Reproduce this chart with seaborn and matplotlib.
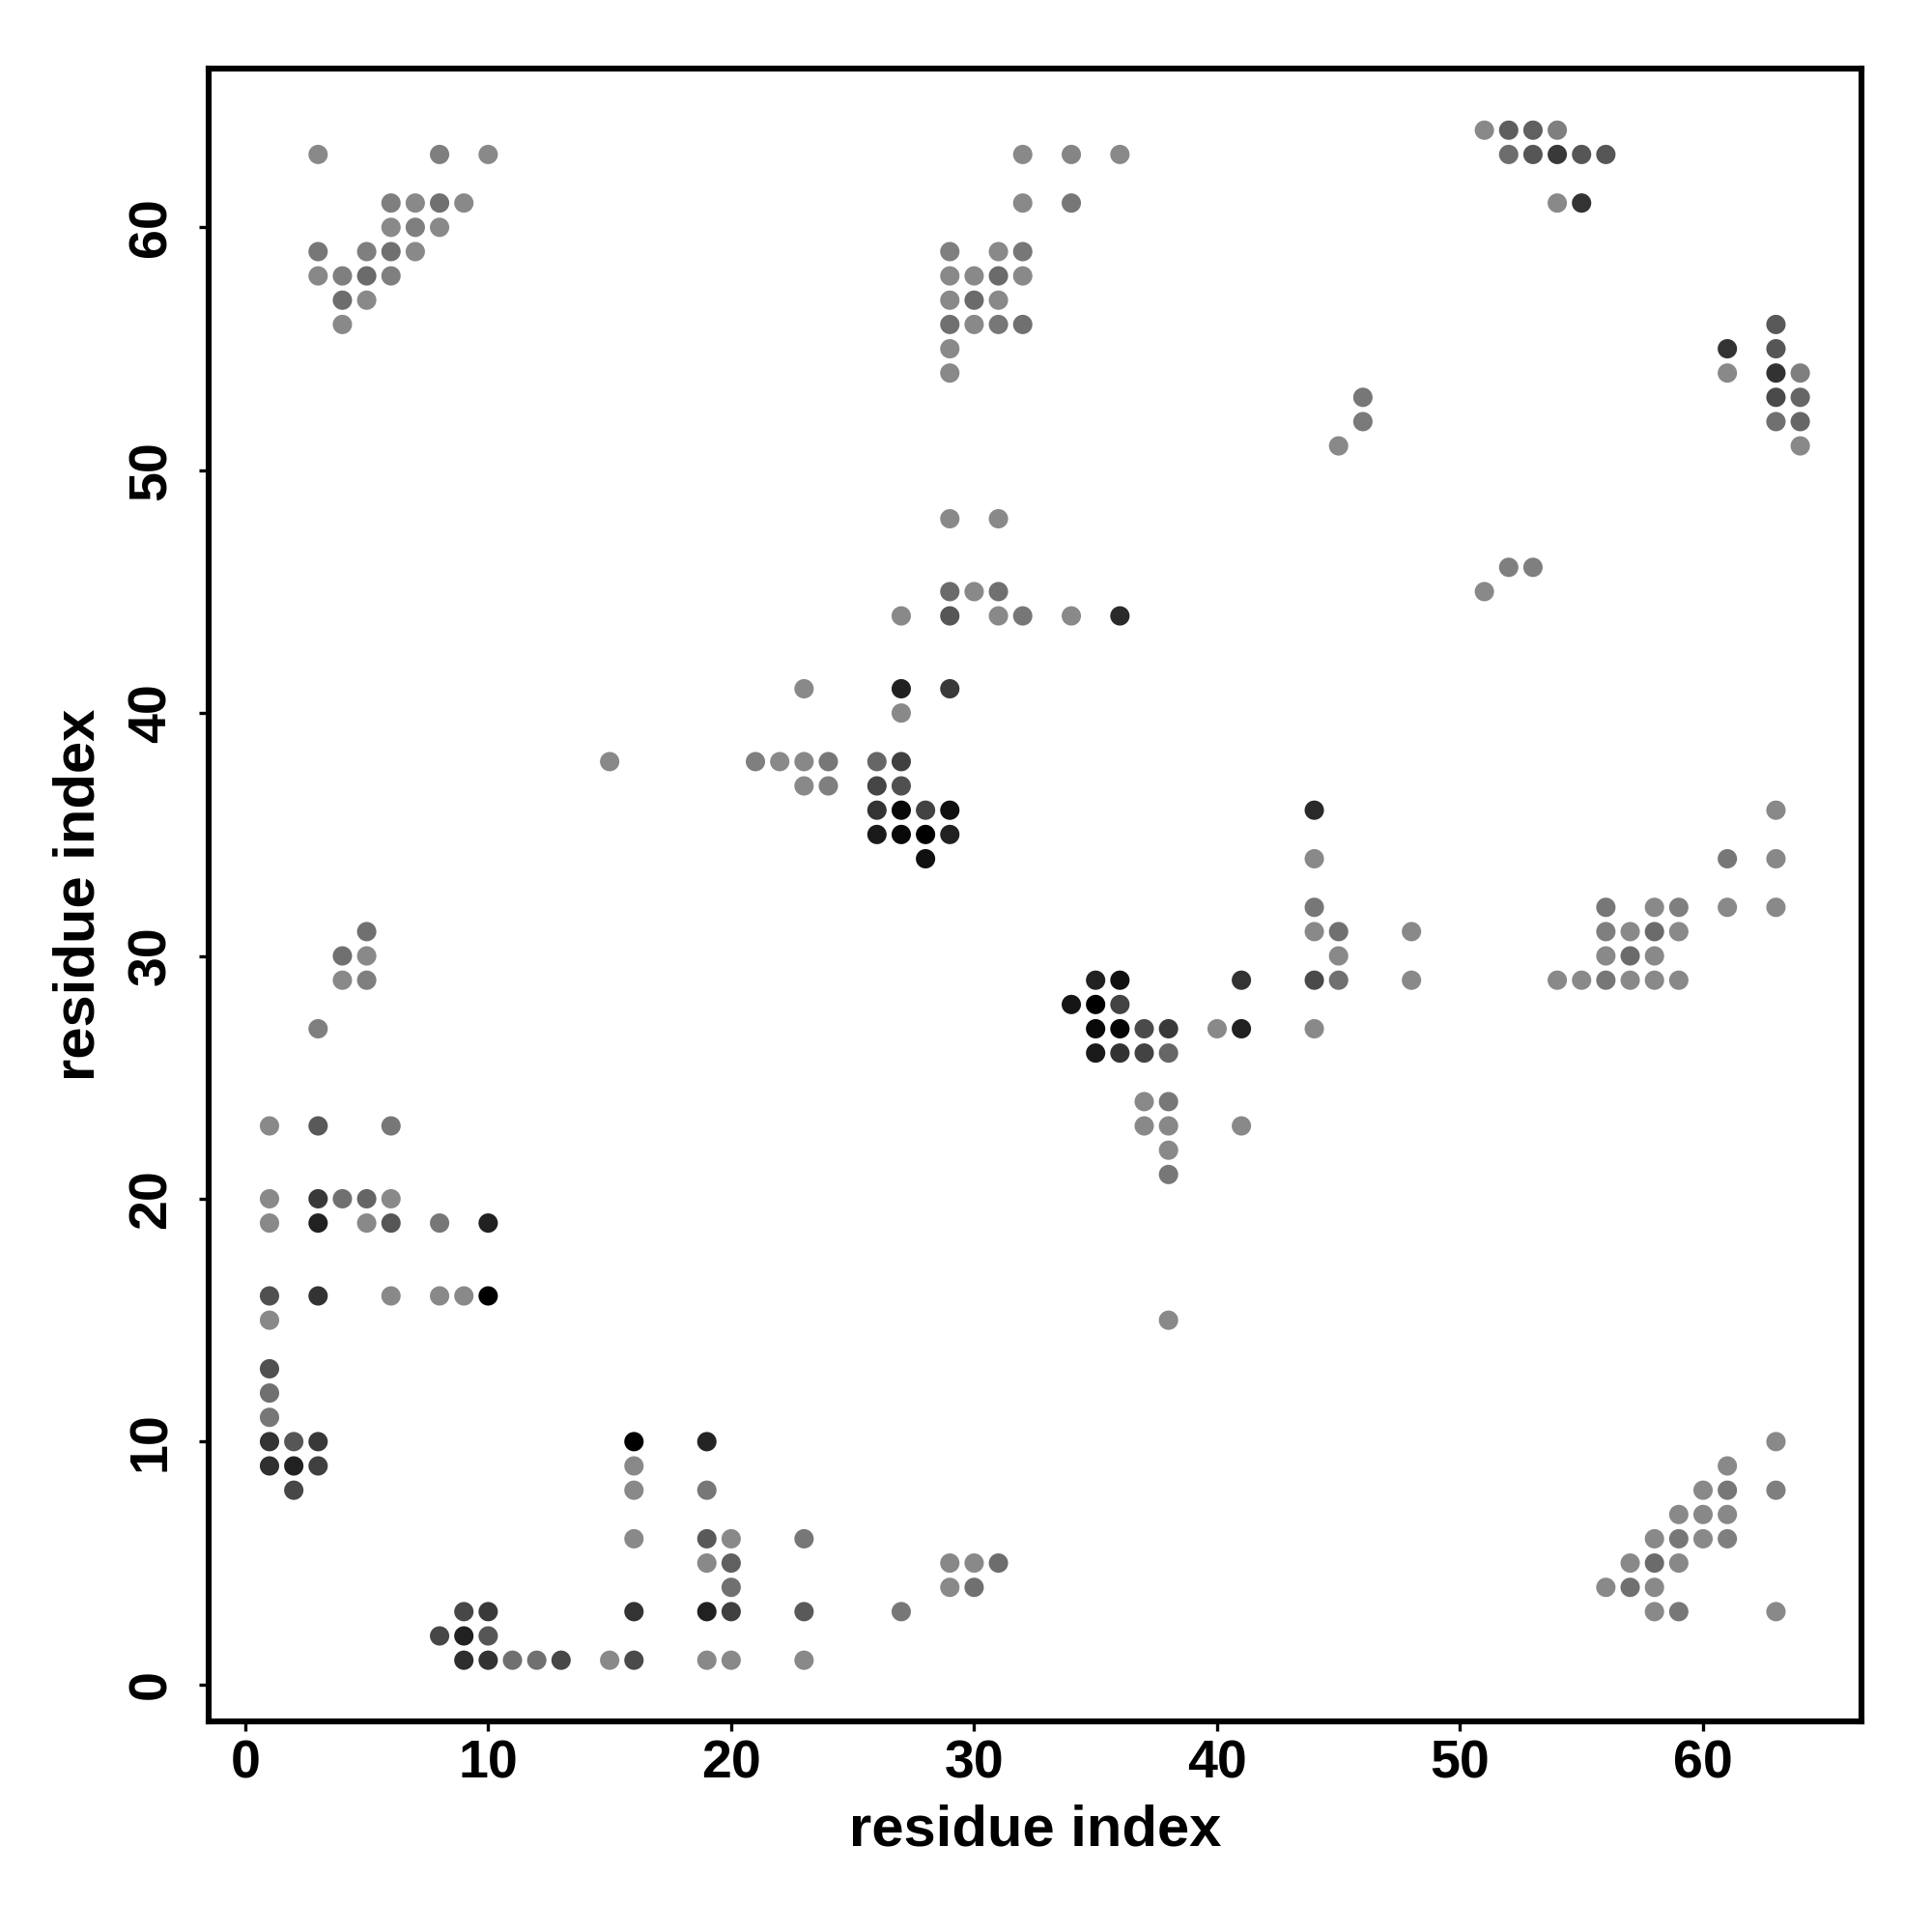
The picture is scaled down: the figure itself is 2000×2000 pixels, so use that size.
import numpy as np
import pandas as pd
import matplotlib
matplotlib.use("Agg")
import matplotlib.pyplot as plt
import seaborn as sns
from matplotlib.colors import LinearSegmentedColormap

# ---- data: contacts (residue i, residue j) and contact probability ----
res_i = [
    # bottom-left block
    1, 3, 4, 5, 6,
    1, 3, 5, 6, 8, 10,
    1, 3, 6, 8, 9, 10,
    1, 1, 1, 1,
    1, 2, 3, 16, 19,
    1, 2, 3, 16,
    2, 16, 19,
    16, 19, 20, 23,
    19, 20,
    20,
    9, 10, 16, 19, 20, 23,
    8, 9, 10,
    9, 10, 11, 12, 13, 15, 16, 19, 20, 23,
    # bottom-middle
    38, 38, 38, 29, 30, 31, 29, 30, 27,
    # bottom-right
    63, 61, 60, 61, 63, 59, 60, 61, 58, 59, 60, 61, 57, 58, 59, 56, 57, 58, 58, 59, 63,
    # middle-left
    15, 21, 5, 4, 5, 4, 5, 3, 1, 3, 6,
    # centre
    27, 29, 31, 32, 34, 36,
    23, 27, 29,
    27,
    22, 23, 24, 26, 27,
    23, 24, 26, 27,
    26, 27, 28, 29, 44,
    26, 27, 28, 29,
    28, 44,
    44, 44,
    35, 36, 41, 44,
    34, 35, 36,
    35, 36, 37, 38, 40, 41, 44,
    35, 36, 37, 38,
    37, 38,
    37, 38, 41,
    # middle-right
    63, 61, 63, 56, 58, 59, 61, 63,
    45, 48, 56, 57, 58, 59,
    45, 56, 57, 58,
    45, 48, 54, 55, 56, 57, 58, 59,
    # top-left
    3, 8, 10,
    6, 7, 8, 9,
    6, 7, 8,
    3, 5, 6, 7,
    3, 4, 5, 6,
    4, 5,
    4,
    # top-middle
    32, 34, 36,
    32, 34,
    29, 31, 32,
    29, 30, 31, 32,
    29, 30, 31,
    29, 30, 31, 32,
    29, 29,
    29, 31,
    29, 30, 31,
    # top-right
    51, 52, 53, 54,
    52, 53, 54, 55, 56,
    54, 55,
    63, 61, 63, 61, 63, 64,
    63, 64, 63, 64, 64,
    46, 46, 45,
    52, 53, 51,
]

res_j = [
    20, 20, 20, 20, 20,
    19, 19, 19, 19, 19, 19,
    16, 16, 16, 16, 16, 16,
    15, 13, 12, 11,
    10, 10, 10, 10, 10,
    9, 9, 9, 9,
    8, 8, 8,
    6, 6, 6, 6,
    5, 5,
    4,
    3, 3, 3, 3, 3, 3,
    2, 2, 2,
    1, 1, 1, 1, 1, 1, 1, 1, 1, 1,
    22, 21, 15, 5, 5, 5, 4, 4, 3,
    10, 9, 8, 8, 8, 7, 7, 7, 6, 6, 6, 6, 5, 5, 5, 4, 4, 4, 3, 3, 3,
    38, 38, 31, 30, 30, 29, 29, 27, 23, 23, 23,
    44, 44, 44, 44, 44, 44,
    41, 41, 41,
    40,
    38, 38, 38, 38, 38,
    37, 37, 37, 37,
    36, 36, 36, 36, 36,
    35, 35, 35, 35,
    34, 34,
    32, 31,
    29, 29, 29, 29,
    28, 28, 28,
    27, 27, 27, 27, 27, 27, 27,
    26, 26, 26, 26,
    24, 24,
    23, 23, 23,
    36, 34, 34, 32, 32, 32, 32, 32,
    31, 31, 31, 31, 31, 31,
    30, 30, 30, 30,
    29, 29, 29, 29, 29, 29, 29, 29,
    63, 63, 63,
    61, 61, 61, 61,
    60, 60, 60,
    59, 59, 59, 59,
    58, 58, 58, 58,
    57, 57,
    56,
    63, 63, 63,
    61, 61,
    59, 59, 59,
    58, 58, 58, 58,
    57, 57, 57,
    56, 56, 56, 56,
    55, 54,
    48, 48,
    45, 45, 45,
    64, 64, 64, 64,
    63, 63, 63, 63, 63,
    61, 61,
    56, 55, 55, 54, 54, 54,
    53, 53, 52, 52, 51,
    53, 52, 51,
    46, 46, 45,
]

prob = [
    0.02, 0.59, 0.20, 0.28, 0.02,
    0.02, 0.76, 0.02, 0.39, 0.15, 0.76,
    0.43, 0.64, 0.02, 0.02, 0.02, 1.00,
    0.02, 0.43, 0.20, 0.15,
    0.64, 0.39, 0.60, 1.00, 0.74,
    0.66, 0.76, 0.54, 0.02,
    0.49, 0.02, 0.15,
    0.02, 0.36, 0.02, 0.15,
    0.02, 0.32,
    0.20,
    0.49, 0.59, 0.64, 0.76, 0.54, 0.36,
    0.49, 0.76, 0.39,
    0.67, 0.64, 0.20, 0.20, 0.49, 0.02, 0.47, 0.02, 0.02, 0.02,
    0.02, 0.15, 0.02, 0.03, 0.02, 0.22, 0.02, 0.20, 0.15,
    0.02, 0.02, 0.02, 0.15, 0.09, 0.02, 0.03, 0.03, 0.02, 0.15, 0.02, 0.09, 0.02, 0.24, 0.03, 0.02, 0.20, 0.02, 0.02, 0.15, 0.02,
    0.02, 0.09, 0.20, 0.20, 0.02, 0.02, 0.09, 0.09, 0.02, 0.36, 0.15,
    0.02, 0.39, 0.02, 0.15, 0.02, 0.70,
    0.02, 0.76, 0.59,
    0.02,
    0.02, 0.03, 0.15, 0.27, 0.54,
    0.02, 0.09, 0.51, 0.43,
    0.64, 0.94, 0.52, 0.88, 0.70,
    0.81, 0.93, 1.00, 0.76,
    0.88, 0.02,
    0.15, 0.02,
    0.76, 0.88, 0.64, 0.47,
    0.85, 1.00, 0.52,
    0.93, 0.96, 0.47, 0.59, 0.02, 0.76, 0.02,
    0.81, 0.64, 0.52, 0.27,
    0.02, 0.15,
    0.02, 0.03, 0.02,
    0.02, 0.15, 0.03, 0.15, 0.02, 0.09, 0.02, 0.02,
    0.20, 0.02, 0.09, 0.02, 0.24, 0.02,
    0.02, 0.02, 0.24, 0.02,
    0.20, 0.02, 0.02, 0.02, 0.15, 0.02, 0.02, 0.03,
    0.02, 0.09, 0.02,
    0.09, 0.02, 0.20, 0.02,
    0.02, 0.09, 0.02,
    0.15, 0.09, 0.20, 0.02,
    0.03, 0.09, 0.24, 0.09,
    0.22, 0.02,
    0.02,
    0.02, 0.05, 0.02,
    0.02, 0.15,
    0.09, 0.02, 0.15,
    0.02, 0.02, 0.24, 0.02,
    0.02, 0.24, 0.02,
    0.20, 0.02, 0.15, 0.20,
    0.02, 0.02,
    0.02, 0.02,
    0.24, 0.02, 0.20,
    0.02, 0.33, 0.32, 0.09,
    0.22, 0.39, 0.59, 0.39, 0.39,
    0.02, 0.64,
    0.36, 0.64, 0.39, 0.02, 0.64, 0.09,
    0.47, 0.27, 0.20, 0.27, 0.02,
    0.15, 0.13, 0.02,
    0.09, 0.09, 0.02,
]

tick_values = [0, 10, 20, 30, 40, 50, 60]
x_label = "residue index"
y_label = "residue index"

# ---- style ----
sns.set_style("white")
plt.rcParams["font.family"] = ["Liberation Sans", "DejaVu Sans"]
plt.rcParams["font.weight"] = "bold"
plt.rcParams["text.color"] = "black"
plt.rcParams["axes.labelcolor"] = "black"
plt.rcParams["xtick.color"] = "black"
plt.rcParams["ytick.color"] = "black"

df = pd.DataFrame({"i": res_i, "j": res_j, "p": prob})
grey_map = LinearSegmentedColormap.from_list("contact_grey", ["#8c8c8c", "#000000"])

fig = plt.figure(figsize=(10, 10), dpi=200)
ax = fig.add_axes([0.1078, 0.109, 0.8557, 0.8553])

sns.scatterplot(data=df, x="i", y="j", hue="p", palette=grey_map, hue_norm=(0, 1),
                s=52, linewidth=0, legend=False, ax=ax)

ax.set_xlim(-1.52, 66.52)
ax.set_ylim(-1.52, 66.52)
ax.set_xticks(tick_values)
ax.set_yticks(tick_values)
ax.set_xticklabels([str(t) for t in tick_values], fontsize=20, fontweight="bold", color="black")
ax.set_yticklabels([str(t) for t in tick_values], fontsize=20, fontweight="bold",
                   rotation=90, va="center", color="black")
ax.tick_params(axis="both", which="major", bottom=True, left=True, direction="out",
               length=3.6, width=1.2, color="black", labelcolor="black")
ax.tick_params(axis="x", pad=3)
ax.tick_params(axis="y", pad=8)
for sp in ax.spines.values():
    sp.set_visible(True)
    sp.set_color("black")
    sp.set_linewidth(2.2)

ax.set_xlabel(x_label, fontsize=21.5, fontweight="bold", labelpad=5.5, color="black")
ax.set_ylabel(y_label, fontsize=21.5, fontweight="bold", labelpad=8, color="black")

fig.savefig("out.png", dpi=200)
